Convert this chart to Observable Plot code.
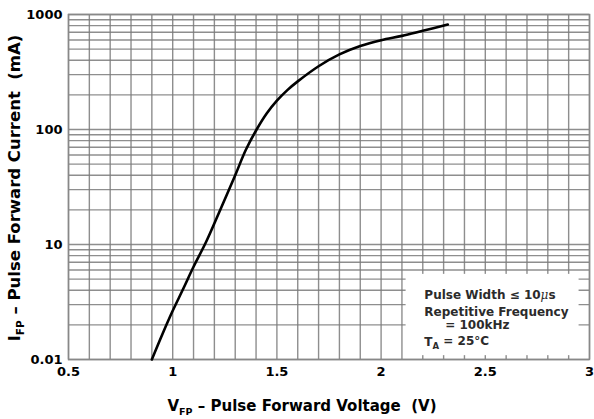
<!DOCTYPE html>
<html>
<head>
<meta charset="utf-8">
<script src="https://cdn.jsdelivr.net/npm/d3@7"></script>
<script src="https://cdn.jsdelivr.net/npm/@observablehq/plot@0.6"></script>
<style>
  html, body { margin: 0; padding: 0; background: #fff; }
  #chart { width: 594px; height: 419px; }
</style>
</head>
<body>
<div id="chart"></div>
<script>
// Curve: pulse forward voltage (V) vs pulse forward current (mA)
const vFP = [0.90, 0.95, 1.00, 1.05, 1.10, 1.16, 1.22, 1.30, 1.35, 1.40, 1.45, 1.50, 1.55, 1.60, 1.70, 1.80, 1.90, 2.00, 2.10, 2.20, 2.32];
const iFP = [1.0, 1.65, 2.65, 4.1, 6.4, 10.5, 18.5, 40, 66, 98, 137, 178, 220, 262, 355, 450, 532, 598, 652, 722, 817];

// Axis ticks and labels
const xTicks = [0.5, 1, 1.5, 2, 2.5, 3];
const xTickLabels = ["0.5", "1", "1.5", "2", "2.5", "3"];
const yTicks = [1, 10, 100, 1000];
const yTickLabels = ["0.01", "10", "100", "1000"];

// Grid lines
const xGrid = [0.5,0.6,0.7,0.8,0.9,1.0,1.1,1.2,1.3,1.4,1.5,1.6,1.7,1.8,1.9,2.0,2.1,2.2,2.3,2.4,2.5,2.6,2.7,2.8,2.9,3.0];
const yGrid = [1,2,3,4,5,6,7,8,9,10,20,30,40,50,60,70,80,90,100,200,300,400,500,600,700,800,900,1000];

// Annotation box and lines
const noteBox = [{x1: 2.12, x2: 2.95, y1: 1.08, y2: 5.5}];
const noteX = [2.21, 2.21, 2.31, 2.21];
const noteY = [3.6, 2.56, 1.98, 1.41];

const data = vFP.map((v, i) => ({v, i: iFP[i]}));

const fontFam = "'DejaVu Sans', 'Liberation Sans', Arial, sans-serif";

const svg = Plot.plot({
  width: 594,
  height: 419,
  marginLeft: 68,
  marginRight: 5,
  marginTop: 14,
  marginBottom: 60,
  style: {fontFamily: fontFam, fontSize: "13px", fontWeight: "bold", color: "#000", background: "#fff", overflow: "visible"},
  x: {domain: [0.5, 3]},
  y: {type: "log", domain: [1, 1000]},
  marks: [
    Plot.ruleX(xGrid, {stroke: "#7a7a7a", strokeWidth: 1.4, strokeOpacity: 0.85}),
    Plot.ruleY(yGrid, {stroke: "#7a7a7a", strokeWidth: 1.4, strokeOpacity: 0.85}),
    Plot.rect(noteBox, {x1: "x1", x2: "x2", y1: "y1", y2: "y2", fill: "#fff"}),
    Plot.frame({stroke: "#888", strokeWidth: 1.5}),
    Plot.line(data, {x: "v", y: "i", stroke: "#000", strokeWidth: 2.6, curve: "catmull-rom"}),
    Plot.axisX({ticks: xTicks, tickSize: 0, tickPadding: 7, label: null,
      tickFormat: d => xTickLabels[xTicks.indexOf(d)], fontWeight: "bold", fontSize: 13}),
    Plot.axisY({ticks: yTicks, tickSize: 0, tickPadding: 6, label: null,
      tickFormat: d => yTickLabels[yTicks.indexOf(d)], fontWeight: "bold", fontSize: 13})
  ]
});

document.getElementById("chart").appendChild(svg);

const sx = svg.scale("x"), sy = svg.scale("y");
const root = d3.select(svg);

// Annotation text (with subscripts)
const noteG = root.append("g")
  .attr("font-family", fontFam)
  .attr("font-weight", "bold")
  .attr("font-size", 12)
  .attr("text-anchor", "start")
  .attr("fill", "#2b2b2b");

const t0 = noteG.append("text").attr("x", sx.apply(noteX[0])).attr("y", sy.apply(noteY[0])).attr("dy", "0.35em");
t0.append("tspan").text("Pulse Width \u2264 10");
t0.append("tspan").attr("font-style", "italic").attr("font-family", "'DejaVu Serif', serif").attr("font-weight", "normal").text("\u03bc");
t0.append("tspan").text("s");

noteG.append("text").attr("x", sx.apply(noteX[1])).attr("y", sy.apply(noteY[1])).attr("dy", "0.35em").text("Repetitive Frequency");
noteG.append("text").attr("x", sx.apply(noteX[2])).attr("y", sy.apply(noteY[2])).attr("dy", "0.35em").text("= 100kHz");
const t3 = noteG.append("text").attr("x", sx.apply(noteX[3])).attr("y", sy.apply(noteY[3])).attr("dy", "0.35em");
t3.append("tspan").text("T");
t3.append("tspan").attr("font-size", 8.5).attr("dy", "0.3em").text("A");
t3.append("tspan").attr("dy", "-0.3em").text(" = 25\u00b0C");

// Axis titles
const xt = root.append("text")
  .attr("x", 302).attr("y", 411)
  .attr("text-anchor", "middle")
  .attr("font-family", fontFam).attr("font-weight", "bold").attr("font-size", 15)
  .attr("fill", "#000");
xt.append("tspan").text("V");
xt.append("tspan").attr("font-size", 9.5).attr("dy", 4).text("FP");
xt.append("tspan").attr("dy", -4).text(" \u2013 Pulse Forward Voltage  (V)");

const yt = root.append("text")
  .attr("transform", "translate(20,188) rotate(-90)")
  .attr("text-anchor", "middle")
  .attr("font-family", fontFam).attr("font-weight", "bold").attr("font-size", 16.5)
  .attr("fill", "#000");
yt.append("tspan").text("I");
yt.append("tspan").attr("font-size", 10.5).attr("dy", 4).text("FP");
yt.append("tspan").attr("dy", -4).text(" \u2013 Pulse Forward Current  (mA)");
</script>
</body>
</html>
